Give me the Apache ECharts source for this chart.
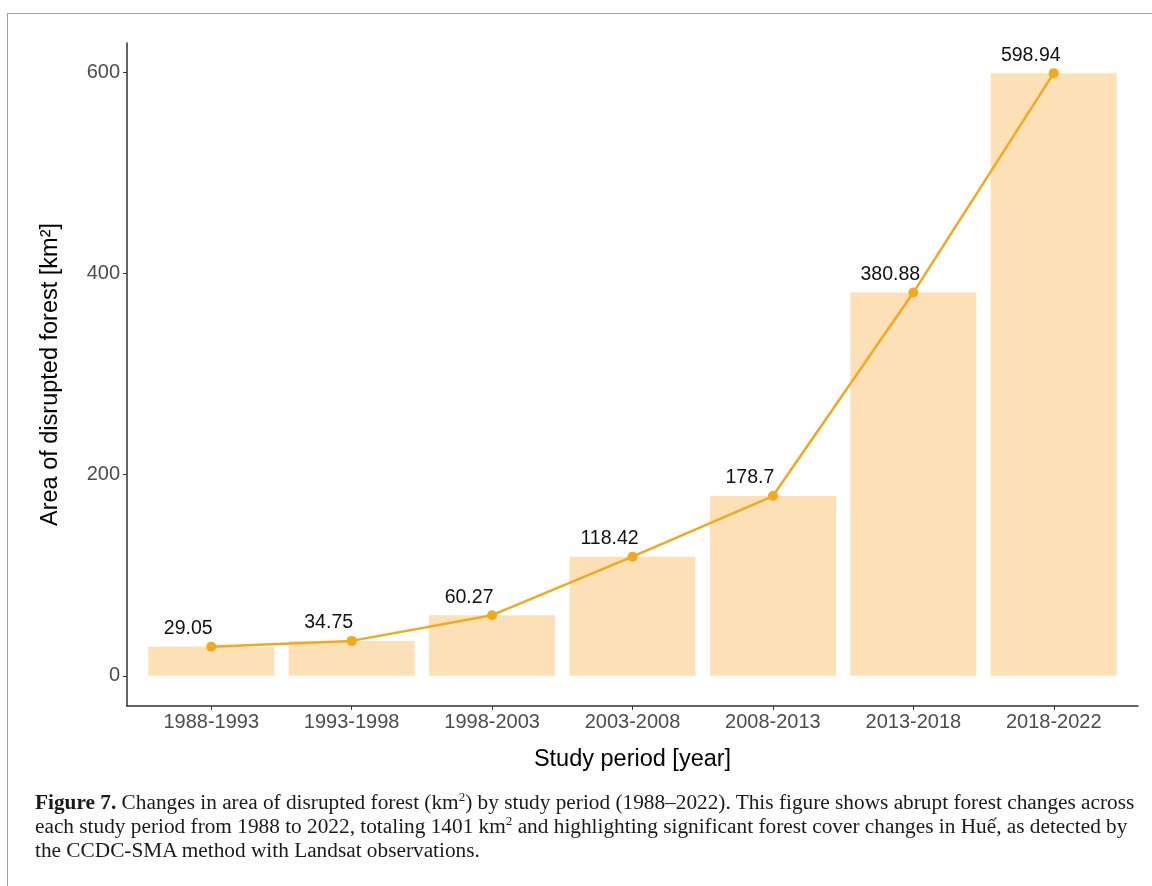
<!DOCTYPE html>
<html>
<head>
<meta charset="utf-8">
<script src="https://cdn.jsdelivr.net/npm/echarts@6/dist/echarts.min.js"></script>
<style>
    body { margin: 0; background: #fff; }
    .frame {
        position: absolute; left: 7px; top: 13px; width: 1145px; height: 873px;
        border-top: 1px solid #a0a0a0; border-left: 1px solid #a0a0a0;
    }
    #chart { position: absolute; left: 0; top: 0; width: 1152px; height: 886px; }
    .caption {
        position: absolute; left: 35px; top: 790px; width: 1100px;
        font-family: "Liberation Serif", "DejaVu Serif", serif;
        font-size: 21.3px; line-height: 24px; color: #1a1a1a;
    }
    .caption sup { font-size: 13px; line-height: 0; }
</style>
</head>
<body>
<div class="frame"></div>
<div id="chart"></div>
<div class="caption"><b>Figure 7.</b> Changes in area of disrupted forest (km<sup>2</sup>) by study period (1988–2022). This figure shows abrupt forest changes across each study period from 1988 to 2022, totaling 1401 km<sup>2</sup> and highlighting significant forest cover changes in Huế, as detected by the CCDC-SMA method with Landsat observations.</div>
<script type="text/javascript">
    var periods = ['1988-1993', '1993-1998', '1998-2003', '2003-2008', '2008-2013', '2013-2018', '2018-2022'];
    var areas = [29.05, 34.75, 60.27, 118.42, 178.7, 380.88, 598.94];
    var yTicks = [0, 200, 400, 600];

    var idx = periods.map(function (p, i) { return i; });
    var pts = areas.map(function (v, i) { return [i, v]; });

    var chart = echarts.init(document.getElementById('chart'));
    var option = {
        animation: false,
        grid: { left: 127, right: 14, top: 43, bottom: 180 },
        xAxis: {
            type: 'value',
            min: -0.6,
            max: 6.6,
            name: 'Study period [year]',
            nameLocation: 'middle',
            nameGap: 42,
            nameTextStyle: { fontFamily: 'Liberation Sans', fontSize: 23.5, color: '#000' },
            splitLine: { show: false },
            axisLine: { onZero: false, lineStyle: { color: '#333', width: 1.5 } },
            axisTick: { customValues: idx, length: 4, lineStyle: { color: '#333' } },
            axisLabel: {
                customValues: idx,
                margin: 6,
                fontFamily: 'Liberation Sans', fontSize: 20, color: '#4d4d4d',
                formatter: function (v) { return periods[Math.round(v)]; }
            }
        },
        yAxis: {
            type: 'value',
            min: -29.947,
            max: 628.887,
            name: 'Area of disrupted forest [km²]',
            nameLocation: 'middle',
            nameRotate: 90,
            nameGap: 64,
            nameTextStyle: { fontFamily: 'Liberation Sans', fontSize: 23.5, color: '#000' },
            splitLine: { show: false },
            axisLine: { show: true, onZero: false, lineStyle: { color: '#333', width: 1.5 } },
            axisTick: { show: true, customValues: yTicks, length: 4, lineStyle: { color: '#333' } },
            axisLabel: {
                customValues: yTicks,
                margin: 7,
                fontFamily: 'Liberation Sans', fontSize: 20, color: '#4d4d4d'
            }
        },
        series: [
            {
                type: 'bar',
                data: pts,
                barWidth: 126,
                itemStyle: { color: '#fde0b6' }
            },
            {
                type: 'line',
                data: pts,
                symbol: 'circle',
                symbolSize: 10,
                lineStyle: { color: '#f2a91e', width: 2.5 },
                itemStyle: { color: '#f2a91e' },
                label: {
                    show: true,
                    position: 'top',
                    distance: 3,
                    offset: [-23, 0],
                    fontFamily: 'Liberation Sans', fontSize: 19.5, color: '#111',
                    formatter: function (p) { return String(p.value[1]); }
                }
            }
        ]
    };
    chart.setOption(option);
</script>
</body>
</html>
